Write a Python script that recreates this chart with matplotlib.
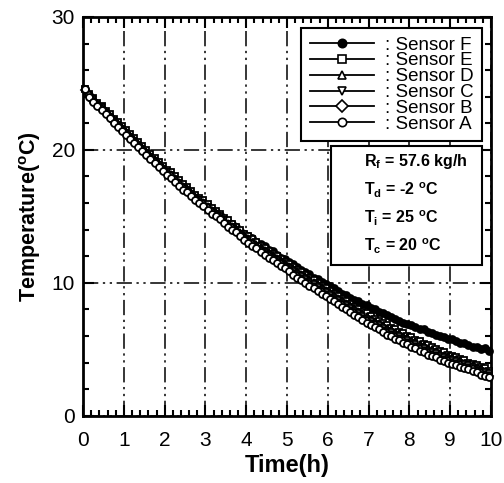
import numpy as np
import matplotlib as mpl
mpl.use('Agg')
import matplotlib.pyplot as plt
from matplotlib.lines import Line2D
from matplotlib.patches import Rectangle

plt.rcParams['font.family'] = ['Liberation Sans', 'DejaVu Sans']
plt.rcParams['mathtext.fontset'] = 'custom'
plt.rcParams['mathtext.rm'] = 'Liberation Sans:bold'
plt.rcParams['mathtext.bf'] = 'Liberation Sans:bold'

# sampling every 0.1 h
time = np.round(np.arange(0.05, 10.0, 0.1), 2)

sensor_f = [24.6, 24.1, 23.7, 23.4, 23.1, 22.8, 22.5, 22.1, 21.8, 21.5,
            21.2, 20.9, 20.6, 20.3, 20.0, 19.7, 19.4, 19.1, 18.8, 18.5,
            18.3, 18.0, 17.7, 17.5, 17.2, 17.0, 16.7, 16.5, 16.2, 16.0,
            15.8, 15.5, 15.3, 15.1, 14.8, 14.6, 14.4, 14.2, 13.9, 13.7,
            13.5, 13.4, 13.1, 12.9, 12.8, 12.5, 12.4, 12.1, 11.9, 11.8,
            11.6, 11.4, 11.2, 11.0, 10.8, 10.7, 10.4, 10.3, 10.1, 9.9,
            9.8, 9.6, 9.4, 9.2, 9.1, 8.9, 8.7, 8.6, 8.4, 8.3,
            8.1, 8.0, 7.8, 7.7, 7.6, 7.4, 7.3, 7.1, 7.0, 6.9,
            6.8, 6.7, 6.5, 6.5, 6.3, 6.2, 6.1, 6.0, 5.9, 5.8,
            5.8, 5.6, 5.5, 5.5, 5.3, 5.2, 5.2, 5.0, 5.1, 4.9]
sensor_e = [24.6, 24.2, 23.9, 23.5, 23.3, 22.9, 22.7, 22.3, 22.1, 21.8,
            21.5, 21.2, 20.9, 20.6, 20.3, 20.0, 19.7, 19.4, 19.1, 18.8,
            18.5, 18.3, 18.0, 17.7, 17.4, 17.2, 16.9, 16.6, 16.4, 16.2,
            15.9, 15.6, 15.4, 15.2, 14.9, 14.7, 14.4, 14.2, 14.0, 13.7,
            13.5, 13.3, 13.1, 12.8, 12.6, 12.4, 12.2, 12.0, 11.8, 11.6,
            11.4, 11.2, 11.0, 10.8, 10.6, 10.4, 10.2, 10.0, 9.8, 9.6,
            9.4, 9.2, 9.0, 8.8, 8.6, 8.4, 8.2, 8.0, 7.8, 7.7,
            7.5, 7.3, 7.1, 7.0, 6.8, 6.6, 6.5, 6.3, 6.2, 6.0,
            5.9, 5.7, 5.6, 5.4, 5.3, 5.2, 5.0, 4.9, 4.8, 4.6,
            4.5, 4.4, 4.3, 4.2, 4.0, 3.9, 3.8, 3.7, 3.6, 3.4]
sensor_d = [24.6, 24.2, 23.8, 23.5, 23.2, 22.9, 22.6, 22.3, 22.0, 21.7,
            21.4, 21.1, 20.8, 20.5, 20.2, 19.9, 19.6, 19.3, 19.0, 18.7,
            18.4, 18.2, 17.9, 17.6, 17.3, 17.1, 16.8, 16.5, 16.3, 16.1,
            15.8, 15.5, 15.3, 15.1, 14.8, 14.5, 14.3, 14.1, 13.8, 13.6,
            13.4, 13.1, 12.9, 12.7, 12.5, 12.3, 12.1, 11.9, 11.7, 11.5,
            11.3, 11.1, 10.9, 10.7, 10.5, 10.3, 10.1, 9.9, 9.7, 9.5,
            9.3, 9.1, 8.9, 8.7, 8.5, 8.3, 8.1, 7.9, 7.7, 7.5,
            7.3, 7.1, 7.0, 6.8, 6.6, 6.5, 6.3, 6.2, 6.0, 5.9,
            5.7, 5.6, 5.4, 5.3, 5.1, 5.0, 4.9, 4.7, 4.6, 4.5,
            4.4, 4.3, 4.2, 4.0, 3.9, 3.8, 3.7, 3.6, 3.4, 3.3]
sensor_c = [24.6, 24.1, 23.8, 23.4, 23.2, 22.8, 22.5, 22.2, 21.9, 21.6,
            21.3, 21.0, 20.7, 20.4, 20.1, 19.8, 19.5, 19.2, 18.9, 18.6,
            18.3, 18.1, 17.8, 17.5, 17.2, 17.0, 16.7, 16.4, 16.2, 16.0,
            15.7, 15.4, 15.2, 15.0, 14.7, 14.4, 14.2, 14.0, 13.7, 13.4,
            13.2, 13.0, 12.8, 12.5, 12.3, 12.1, 11.9, 11.7, 11.5, 11.3,
            11.1, 10.9, 10.7, 10.5, 10.3, 10.1, 9.9, 9.7, 9.5, 9.3,
            9.1, 8.9, 8.7, 8.5, 8.3, 8.1, 7.9, 7.7, 7.5, 7.3,
            7.1, 6.9, 6.8, 6.6, 6.4, 6.3, 6.1, 6.0, 5.8, 5.7,
            5.5, 5.4, 5.2, 5.1, 4.9, 4.8, 4.7, 4.5, 4.4, 4.3,
            4.2, 4.1, 4.0, 3.9, 3.8, 3.7, 3.5, 3.4, 3.3, 3.2]
sensor_b = [24.5, 24.1, 23.7, 23.4, 23.1, 22.8, 22.5, 22.1, 21.8, 21.5,
            21.2, 20.9, 20.6, 20.3, 20.0, 19.7, 19.4, 19.1, 18.8, 18.5,
            18.2, 18.0, 17.7, 17.4, 17.1, 16.9, 16.6, 16.3, 16.1, 15.9,
            15.6, 15.3, 15.1, 14.9, 14.6, 14.3, 14.1, 13.9, 13.6, 13.3,
            13.1, 12.9, 12.7, 12.4, 12.2, 12.0, 11.8, 11.6, 11.4, 11.2,
            11.0, 10.7, 10.5, 10.3, 10.1, 9.9, 9.7, 9.5, 9.3, 9.1,
            8.9, 8.7, 8.5, 8.3, 8.1, 7.9, 7.7, 7.5, 7.3, 7.1,
            6.9, 6.8, 6.6, 6.4, 6.2, 6.1, 5.9, 5.8, 5.6, 5.5,
            5.3, 5.2, 5.0, 4.9, 4.7, 4.6, 4.5, 4.3, 4.2, 4.1,
            4.0, 3.9, 3.8, 3.7, 3.6, 3.5, 3.4, 3.2, 3.1, 3.0]
sensor_a = [24.6, 24.0, 23.6, 23.3, 23.0, 22.7, 22.4, 22.0, 21.7, 21.4,
            21.1, 20.8, 20.5, 20.2, 19.9, 19.6, 19.3, 19.0, 18.7, 18.4,
            18.1, 17.9, 17.6, 17.3, 17.0, 16.8, 16.5, 16.2, 16.0, 15.8,
            15.5, 15.2, 15.0, 14.8, 14.5, 14.2, 14.0, 13.8, 13.5, 13.2,
            13.0, 12.8, 12.6, 12.3, 12.1, 11.9, 11.7, 11.5, 11.3, 11.1,
            10.9, 10.6, 10.4, 10.2, 10.0, 9.8, 9.6, 9.4, 9.2, 9.0,
            8.8, 8.6, 8.4, 8.2, 8.0, 7.8, 7.6, 7.4, 7.2, 7.0,
            6.8, 6.7, 6.5, 6.3, 6.1, 6.0, 5.8, 5.7, 5.5, 5.4,
            5.2, 5.1, 4.9, 4.8, 4.6, 4.5, 4.4, 4.2, 4.1, 4.0,
            3.9, 3.8, 3.7, 3.6, 3.5, 3.4, 3.3, 3.1, 3.0, 2.95]

series = [('Sensor F', sensor_f, 'o', 'black'),
          ('Sensor E', sensor_e, 's', 'white'),
          ('Sensor D', sensor_d, '^', 'white'),
          ('Sensor C', sensor_c, 'v', 'white'),
          ('Sensor B', sensor_b, 'D', 'white'),
          ('Sensor A', sensor_a, 'o', 'white')]

params = [r'R$_\mathrm{f}$ = 57.6 kg/h', r'T$_\mathrm{d}$ = -2 $^\mathrm{o}$C',
          r'T$_\mathrm{i}$ = 25 $^\mathrm{o}$C', r'T$_\mathrm{c}$ = 20 $^\mathrm{o}$C']

fig = plt.figure(figsize=(5.04, 4.83), dpi=100)
ax = fig.add_axes([0.165, 0.139, 0.809, 0.826])

handles = []
for name, vals, mk, fc in series:
    ms = 4.2 if mk == 'D' else 5
    ax.plot(time, vals, linestyle='none', marker=mk, markersize=ms,
            markerfacecolor=fc, markeredgecolor='black', markeredgewidth=1.3,
            clip_on=False, zorder=3)
    handles.append(Line2D([], [], color='black', lw=1.3, marker=mk, markersize=6,
                          markerfacecolor=fc, markeredgecolor='black',
                          markeredgewidth=1.2, label=': ' + name))

ax.set_xlim(0, 10)
ax.set_ylim(0, 30)
ax.set_xticks(range(0, 11))
ax.set_yticks([0, 10, 20, 30])
ax.set_xticks(np.arange(0, 10.01, 0.2), minor=True)
ax.set_yticks(np.arange(0, 30.01, 2), minor=True)
ax.tick_params(which='both', direction='in', top=True, right=True,
               width=1.5, labelsize=15, colors='black')
ax.tick_params(which='major', length=8)
ax.tick_params(which='minor', length=4)
ax.tick_params(axis='x', which='major', pad=11)
ax.tick_params(axis='y', which='major', pad=6)
for s in ax.spines.values():
    s.set_linewidth(2)

ax.grid(True, which='major', color='black', linewidth=1.1,
        linestyle=(0, (10, 3, 1.5, 3, 1.5, 3)))
ax.set_axisbelow(True)

ax.set_xlabel('Time(h)', fontsize=17, fontweight='bold', labelpad=3)
ax.set_ylabel(r'Temperature($^\mathrm{o}$C)', fontsize=15.5, fontweight='bold', labelpad=6)

leg = ax.legend(handles=handles, loc='upper right', bbox_to_anchor=(0.978, 0.972),
                borderaxespad=0, fontsize=13.5, labelspacing=-0.07, handlelength=3.4,
                handletextpad=0.6, borderpad=0.45, fancybox=False, framealpha=1)
leg.get_frame().set_edgecolor('black')
leg.get_frame().set_linewidth(1.5)
leg.set_zorder(5)

ax.add_patch(Rectangle((0.608, 0.378), 0.37, 0.299, transform=ax.transAxes,
                       facecolor='white', edgecolor='black', linewidth=1.5, zorder=5))
for txt, yy in zip(params, [0.637, 0.566, 0.496, 0.424]):
    ax.text(0.69, yy, txt, transform=ax.transAxes, fontsize=11.5, fontweight='bold',
            va='center', ha='left', zorder=6)

fig.savefig('out.png', dpi=100)
